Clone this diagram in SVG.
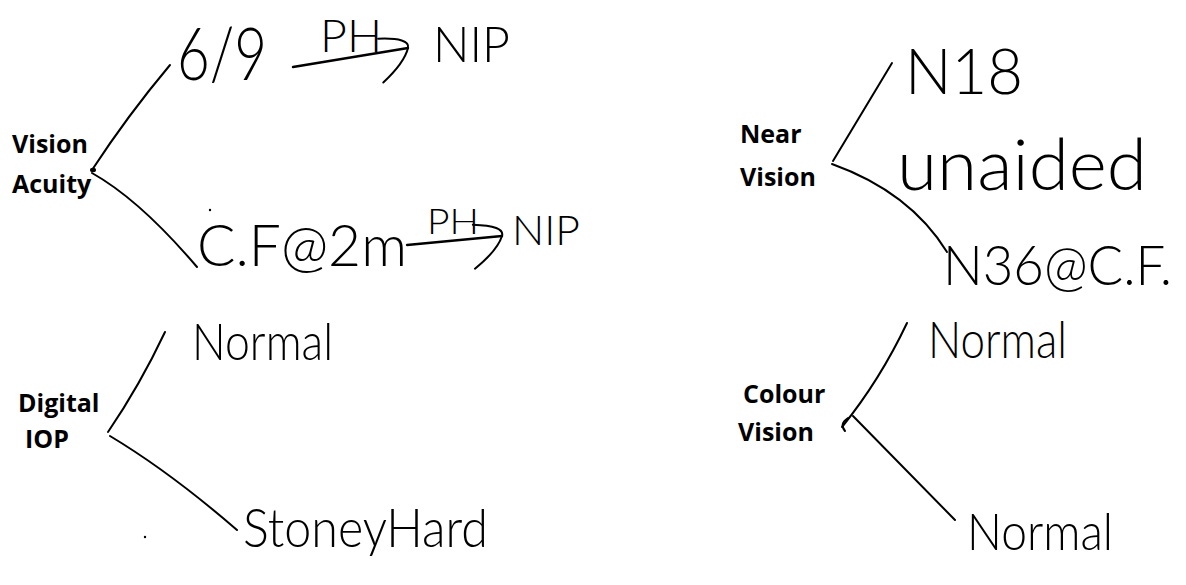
<svg xmlns="http://www.w3.org/2000/svg" width="1186" height="585" viewBox="0 0 1186 585">
<style>
.lbl{font-family:"Open Sans","Liberation Sans",sans-serif;font-weight:700;font-size:25px;fill:#000}
.hw{font-family:Lato,"DejaVu Sans",sans-serif;font-weight:300;fill:#000}
.c{fill:none;stroke:#000;stroke-width:2;stroke-linecap:round}
.a{fill:none;stroke:#000;stroke-width:2.4;stroke-linecap:round}
</style>
<defs>
<marker id="hook" markerUnits="userSpaceOnUse" markerWidth="60" markerHeight="60" refX="40" refY="20" orient="auto" overflow="visible">
<path d="M12,6 Q44,10 40,20 Q34,34 10,50" fill="none" stroke="#000" stroke-width="2" stroke-linecap="round"/>
</marker>
</defs>
<rect width="1186" height="585" fill="#fff"/>

<g id="connectors">
<path class="c" d="M92,170 Q128,115 170,65"/>
<path class="c" d="M92,173 Q140,200 197,267"/>
<ellipse cx="93" cy="170" rx="3" ry="2.2" fill="#000"/>
<path class="c" d="M108,432 Q140,385 165,332"/>
<path class="c" d="M110,436 Q170,472 237,530"/>
<path class="c" d="M833,161 Q865,108 892,63"/>
<path class="c" d="M832,164 Q910,192 947,252"/>
<path class="c" d="M842,427 Q880,380 907,323"/>
<path class="c" d="M853,416 L955,520"/>
<path class="c" d="M845,431 Q839,424 848,418"/>
<path class="a" d="M293,67 L408,48" marker-end="url(#hook)"/>
<path class="a" d="M407,245 L502,236" marker-end="url(#hook)"/>
<text class="hw" x="320" y="52" font-size="46" textLength="62" lengthAdjust="spacingAndGlyphs">PH</text>
<text class="hw" x="427" y="234" font-size="36" textLength="52" lengthAdjust="spacingAndGlyphs">PH</text>
</g>

<g id="node-vision-acuity">
<text class="lbl" x="12" y="153">Vision</text>
<text class="lbl" x="12" y="193">Acuity</text>
</g>
<g id="node-6-9">
<text class="hw" x="177" y="80" font-size="72" textLength="90" lengthAdjust="spacingAndGlyphs">6/9</text>
</g>
<g id="node-nip-1">
<text class="hw" x="433" y="62" font-size="50" textLength="77" lengthAdjust="spacingAndGlyphs">NIP</text>
</g>
<g id="node-cf-2m">
<text class="hw" x="197" y="266" font-size="58" textLength="210" lengthAdjust="spacingAndGlyphs">C.F@2m</text>
<circle cx="210" cy="210" r="1.2" fill="#000"/>
</g>
<g id="node-nip-2">
<text class="hw" x="512" y="245" font-size="42" textLength="68" lengthAdjust="spacingAndGlyphs">NIP</text>
</g>

<g id="node-digital-iop">
<text class="lbl" x="18" y="412">Digital</text>
<text class="lbl" x="25" y="448">IOP</text>
</g>
<g id="node-normal-iop">
<text class="hw" x="192" y="360" font-size="52" textLength="141" lengthAdjust="spacingAndGlyphs">Normal</text>
</g>
<g id="node-stoneyhard">
<text class="hw" x="243" y="547" font-size="54" textLength="245" lengthAdjust="spacingAndGlyphs">StoneyHard</text>
<circle cx="145" cy="537" r="1.2" fill="#000"/>
</g>

<g id="node-near-vision">
<text class="lbl" x="740" y="143">Near</text>
<text class="lbl" x="740" y="186">Vision</text>
</g>
<g id="node-n18">
<text class="hw" x="905" y="94" font-size="64" textLength="118" lengthAdjust="spacingAndGlyphs">N18</text>
</g>
<g id="node-unaided">
<text class="hw" x="897" y="190" font-size="70" textLength="250" lengthAdjust="spacingAndGlyphs">unaided</text>
</g>
<g id="node-n36-cf">
<text class="hw" x="943" y="285" font-size="55" textLength="229" lengthAdjust="spacingAndGlyphs">N36@C.F.</text>
</g>

<g id="node-colour-vision">
<text class="lbl" x="743" y="403">Colour</text>
<text class="lbl" x="738" y="441">Vision</text>
</g>
<g id="node-normal-cv-1">
<text class="hw" x="928" y="358" font-size="52" textLength="139" lengthAdjust="spacingAndGlyphs">Normal</text>
</g>
<g id="node-normal-cv-2">
<text class="hw" x="967" y="550" font-size="52" textLength="146" lengthAdjust="spacingAndGlyphs">Normal</text>
</g>
</svg>
